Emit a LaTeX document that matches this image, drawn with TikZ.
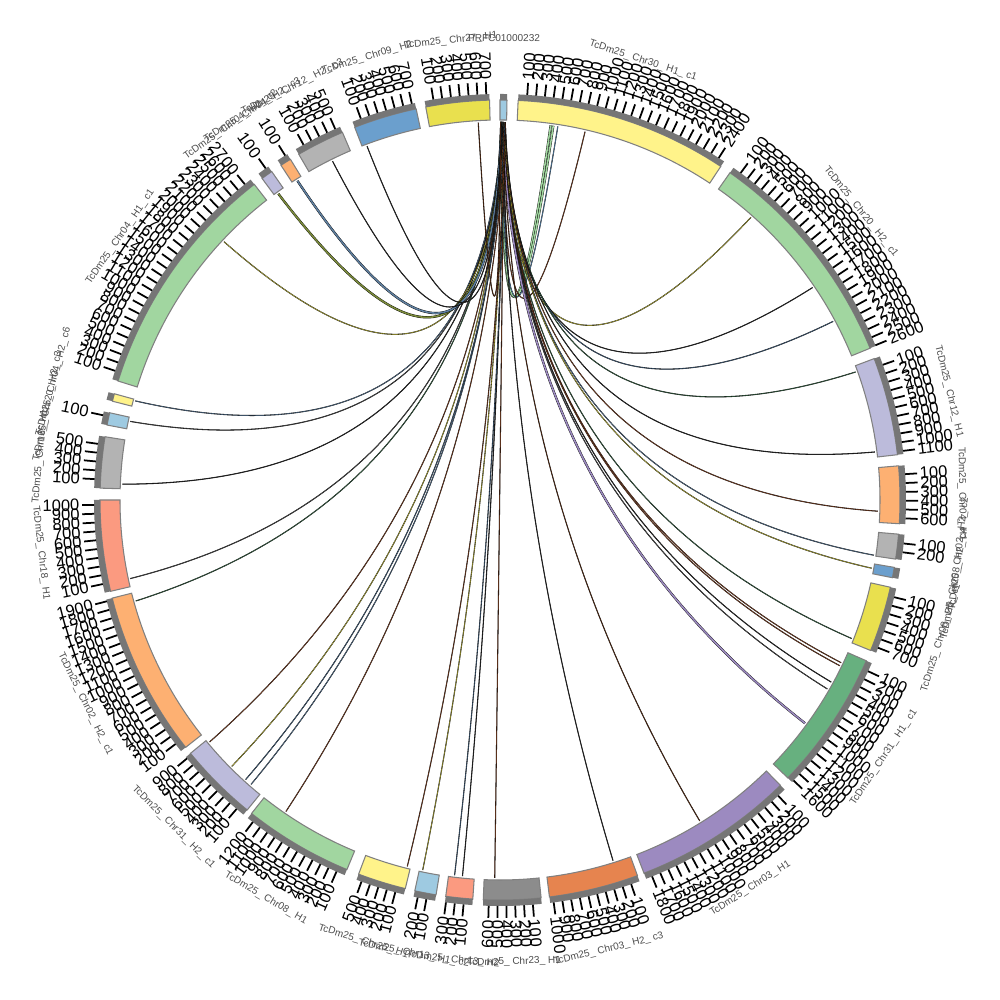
\documentclass[tikz,border=0pt]{standalone}
\usepackage{fontspec}
\setmainfont{Liberation Sans}
\usetikzlibrary{calc}
\definecolor{cPRFC}{HTML}{9ECAE1}
\definecolor{cYelL}{HTML}{FFF38A}
\definecolor{cYelD}{HTML}{E9E04E}
\definecolor{cGrnL}{HTML}{A1D6A0}
\definecolor{cGrnD}{HTML}{67B07F}
\definecolor{cLav}{HTML}{BCBBDB}
\definecolor{cOrgL}{HTML}{FDB072}
\definecolor{cOrgD}{HTML}{E6844F}
\definecolor{cGryL}{HTML}{B3B3B3}
\definecolor{cGryD}{HTML}{8C8C8C}
\definecolor{cBluL}{HTML}{9ECAE1}
\definecolor{cBluM}{HTML}{6B9FCD}
\definecolor{cPur}{HTML}{9C8AC0}
\definecolor{cSal}{HTML}{FB9A80}
\definecolor{bandgray}{HTML}{767676}
\definecolor{boxline}{HTML}{808080}
\definecolor{labgray}{HTML}{4D4D4D}
\definecolor{lBrown}{HTML}{8B4A2B}
\definecolor{lBrownD}{HTML}{6A3A1E}
\definecolor{lOlive}{HTML}{C8C040}
\definecolor{lOliveD}{HTML}{7A8A3A}
\definecolor{lBlueG}{HTML}{5F7F9F}
\definecolor{lBlueD}{HTML}{4F6F8F}
\definecolor{lGreenD}{HTML}{3F6F4F}
\definecolor{lGrey}{HTML}{555555}
\definecolor{lDark}{HTML}{333333}
\tikzset{
  segbox/.style={fill=#1, draw=boxline, line width=0.3pt},
  bandbox/.style={fill=bandgray},
  tickline/.style={draw=black, line width=0.5pt},
  ticklab/.style={font=\fontsize{4.7}{5}\selectfont, inner sep=0pt, text=black},
  seglab/.style={font=\fontsize{2.85}{3}\selectfont, inner sep=0pt, text=labgray},
  lk/.style={draw=black, line width=0.09pt, double=#1, double distance=0.12pt},
  lkwide/.style={draw=black, line width=0.1pt, double=#1, double distance=0.45pt},
}
\newcommand{\chrseg}[6]{%
  \path[segbox=#3] (#1:3.8) arc[start angle=#1, end angle=#2, radius=3.8] -- (#2:4.0) arc[start angle=#2, end angle=#1, radius=4.0] -- cycle;
  \path[bandbox] (#1:4.0) arc[start angle=#1, end angle=#2, radius=4.0] -- (#2:4.06) arc[start angle=#2, end angle=#1, radius=4.06] -- cycle;
  \ifnum#4>0
    \foreach \k in {1,...,#4}{%
      \pgfmathsetmacro\tang{(#1)-1.25*\k}%
      \pgfmathsetmacro\tcos{cos(\tang)}%
      \ifdim\tcos pt<0pt \def\tanc{east}\pgfmathsetmacro\trot{\tang+180}\else\def\tanc{west}\let\trot\tang\fi
      \draw[tickline] (\tang:4.06) -- (\tang:4.18);
      \node[ticklab, anchor=\tanc, rotate=\trot] (#6t\k) at (\tang:4.2) {\k00};
    }%
  \fi
  \pgfmathsetmacro\mang{((#1)+(#2))/2}%
  \pgfmathsetmacro\msin{sin(\mang)}%
  \ifdim\msin pt<0pt \pgfmathsetmacro\mrot{\mang+90}\else\pgfmathsetmacro\mrot{\mang-90}\fi
  \node[seglab, rotate=\mrot] (#6lab) at (\mang:4.62) {#5};
}
\newcommand{\plink}[4]{%
  \coordinate (#4a) at (#1:3.78);
  \coordinate (#4b) at (#2:3.78);
  \coordinate (#4c) at ($0.04*(#4a)+0.04*(#4b)$);
  \draw[#3] (#4a) .. controls ($(#4a)!0.6667!(#4c)$) and ($(#4b)!0.6667!(#4c)$) .. (#4b);
}
\begin{document}
\begin{tikzpicture}
\useasboundingbox[fill=white] (-5,-5) rectangle (5,5);
% links
\plink{89.8}{82.3}{lkwide=cGrnL}{la}
\plink{89.7}{81.9}{lkwide=cGrnL}{lb}
\plink{89.6}{81.2}{lk=cBluM}{lc}
\plink{89.5}{77.0}{lk=lBrown}{ld}
\plink{89.4}{48.4}{lk=lOlive}{le}
\plink{89.3}{34.2}{lk=lDark}{lf}
\plink{89.3}{28.2}{lk=lBlueD}{lg}
\plink{89.2}{19.8}{lk=lGreenD}{lh}
\plink{89.2}{7.3}{lk=lDark}{li}
\plink{89.3}{-1.7}{lk=lBrown}{lj}
\plink{89.4}{-8.4}{lk=lBlueG}{lkk}
\plink{89.4}{-10.4}{lk=lOlive}{ll}
\plink{89.5}{-21.5}{lk=lGreenD}{lm}
\plink{89.5}{-25.5}{lk=lBrown}{ln}
\plink{89.6}{-26.0}{lk=lBrown}{lo}
\plink{89.6}{-28.8}{lk=lDark}{lp}
\plink{89.7}{-30.0}{lk=lGrey}{lq}
\plink{89.6}{-36.2}{lkwide=cPur}{lr}
\plink{89.5}{-58.1}{lk=lBrownD}{ls}
\plink{89.5}{-72.6}{lk=lDark}{lt}
\plink{89.4}{-90.8}{lk=lBrown}{lu}
\plink{89.4}{-95.7}{lk=lDark}{lv}
\plink{89.3}{-96.9}{lk=lBlueD}{lw}
\plink{89.3}{-101.8}{lk=lOlive}{lx}
\plink{89.2}{-104.2}{lk=lBrown}{ly}
\plink{89.2}{-124.5}{lk=lBrown}{lz}
\plink{89.3}{-131.2}{lk=lBlueG}{lA}
\plink{89.3}{-132.3}{lk=lBlueD}{lB}
\plink{89.4}{-135.2}{lk=lOlive}{lC}
\plink{89.4}{-140.2}{lk=lBrown}{lD}
\plink{89.5}{-164.5}{lk=lGreenD}{lE}
\plink{89.5}{-168.0}{lk=lGrey}{lF}
\plink{89.6}{177.6}{lk=lDark}{lG}
\plink{89.6}{168.0}{lk=lGrey}{lH}
\plink{89.7}{164.8}{lk=lBlueG}{lI}
\plink{89.7}{136.9}{lk=lOlive}{lJ}
\plink{89.8}{125.9}{lkwide=lOliveD}{lK}
\plink{89.8}{122.4}{lkwide=lBlueG}{lL}
\plink{89.8}{116.3}{lk=lDark}{lM}
\plink{89.8}{110.6}{lk=lDark}{lN}
\plink{89.9}{93.3}{lk=lBrownD}{lO}
% segments
\chrseg{90}{89.0}{cPRFC}{0}{PRFC01000232}{sa}
\chrseg{87.4}{56.5}{cYelL}{24}{TcDm25\_ Chr30\_ H1\_ c1}{sb}
\chrseg{54.9}{22.3}{cGrnL}{26}{TcDm25\_ Chr20\_ H2\_ c1}{sc}
\chrseg{20.7}{6.5}{cLav}{11}{TcDm25\_ Chr12\_ H1}{sd}
\chrseg{4.9}{-3.4}{cOrgL}{6}{TcDm25\_ Chr04\_ H1}{se}
\chrseg{-4.9}{-8.5}{cGryL}{2}{TcDm25\_ Chr02\_ H2\_ c2}{sf}
\chrseg{-9.7}{-11.2}{cBluM}{0}{TcDm25\_ Chr08\_ H2\_ c4}{sg}
\chrseg{-12.6}{-22.1}{cYelD}{7}{TcDm25\_ Chr08\_ H2\_ c1}{sh}
\chrseg{-23.7}{-44.0}{cGrnD}{16}{TcDm25\_ Chr31\_ H1\_ c1}{si}
\chrseg{-45.5}{-68.9}{cPur}{18}{TcDm25\_ Chr03\_ H1}{sj}
\chrseg{-69.9}{-82.9}{cOrgD}{10}{TcDm25\_ Chr03\_ H2\_ c3}{sk}
\chrseg{-84.1}{-92.4}{cGryD}{6}{TcDm25\_ Chr23\_ H1}{sl}
\chrseg{-93.9}{-97.8}{cSal}{3}{TcDm25\_ Chr13\_ H2}{sm}
\chrseg{-99.2}{-102.3}{cBluL}{2}{TcDm25\_ Chr13\_ H1\_ c2}{sn}
\chrseg{-103.7}{-110.7}{cYelL}{5}{TcDm25\_ Chr25\_ H1}{so}
\chrseg{-112.5}{-128.4}{cGrnL}{12}{TcDm25\_ Chr08\_ H1}{sp}
\chrseg{-129.2}{-140.7}{cLav}{9}{TcDm25\_ Chr31\_ H2\_ c1}{sq}
\chrseg{-141.8}{-165.8}{cOrgL}{19}{TcDm25\_ Chr02\_ H2\_ c1}{sr}
\chrseg{-166.8}{-180}{cSal}{10}{TcDm25\_ Chr18\_ H1}{ss}
\chrseg{178.3}{170.9}{cGryL}{5}{TcDm25\_ Chr16\_ H1}{st}
\chrseg{169.2}{167.4}{cBluL}{1}{TcDm25\_ Chr20\_ H2\_ c3}{su}
\chrseg{165.7}{164.6}{cYelL}{0}{TcDm25\_ Chr04\_ H2\_ c6}{sv}
\chrseg{162.7}{127.9}{cGrnL}{27}{TcDm25\_ Chr04\_ H1\_ c1}{sw}
\chrseg{126.5}{124.8}{cLav}{1}{TcDm25\_ Chr04\_ H2\_ c2}{sx}
\chrseg{123.2}{121.6}{cOrgL}{1}{TcDm25\_ Chr04\_ H2\_ c3}{sy}
\chrseg{120.2}{113.2}{cGryL}{5}{TcDm25\_ Chr12\_ H2\_ c3}{sz}
\chrseg{111.3}{102.1}{cBluM}{7}{TcDm25\_ Chr09\_ H2}{sA}
\chrseg{100.7}{91.5}{cYelD}{7}{TcDm25\_ Chr27\_ H1}{sB}
\end{tikzpicture}
\end{document}
